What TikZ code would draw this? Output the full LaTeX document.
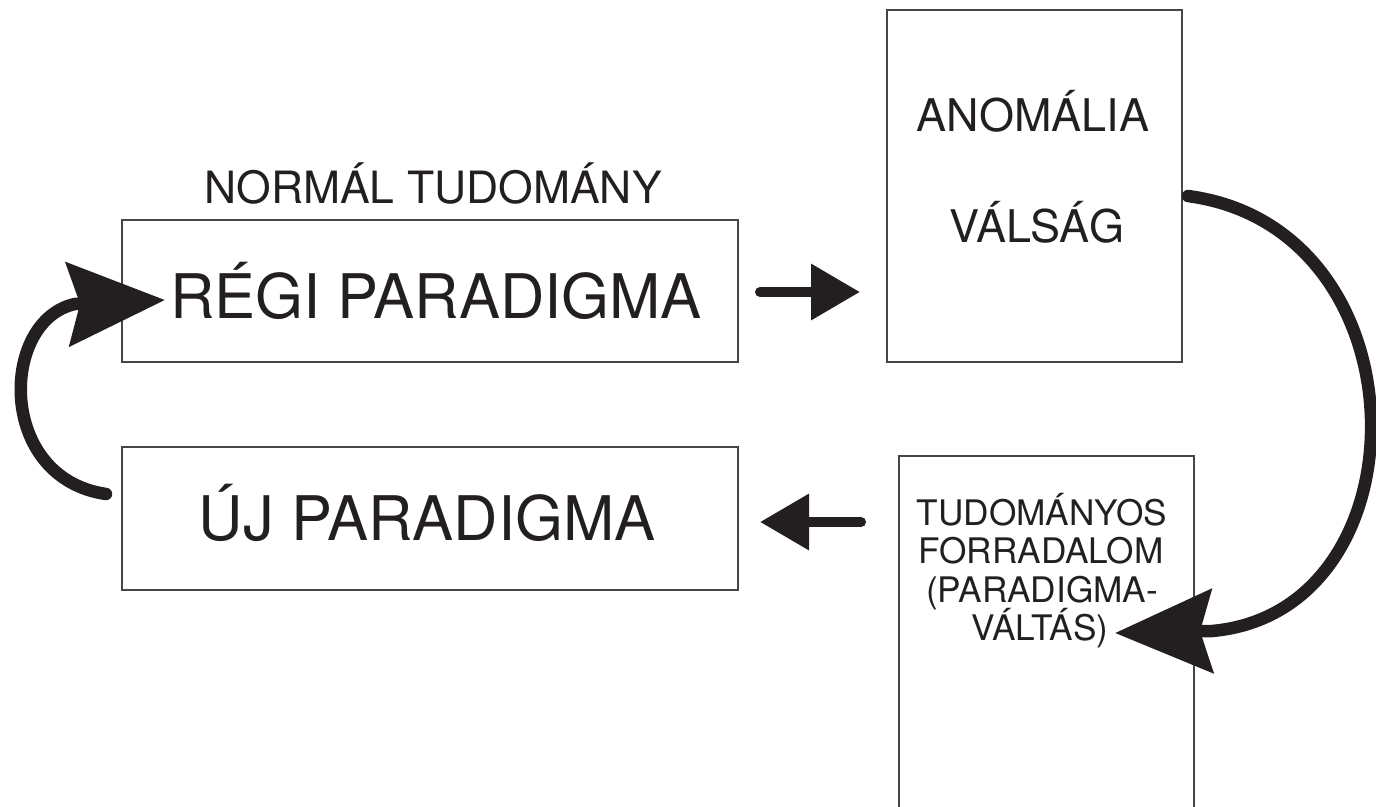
\documentclass[tikz,border=0pt]{standalone}
\usepackage{fontspec}
\setmainfont{TeX Gyre Heros}
\usetikzlibrary{arrows.meta}
\definecolor{ink}{RGB}{35,31,32}
\definecolor{frame}{RGB}{70,70,70}
\tikzset{
  box/.style={draw=frame, line width=1.1pt, rectangle, inner sep=0pt},
  txt/.style={text=ink, inner sep=0pt, anchor=base},
  bigtxt/.style={txt, font=\fontsize{61.5}{72}\selectfont},
  midtxt/.style={txt, font=\fontsize{45}{52}\selectfont},
  smalltxt/.style={txt, font=\fontsize{35.2}{38.5}\selectfont},
  shortarrow/.style={draw=ink, line width=10pt, line cap=round,
    -{Triangle[length=49pt,width=54pt]}},
  looparrow/.style={draw=ink, line width=12.5pt, line cap=round,
    -{Stealth[length=97pt,width=83pt,inset=12pt]}},
}
\begin{document}
\begin{tikzpicture}[x=1pt, y=-1pt]
\useasboundingbox (0,0) rectangle (1376,806);
\clip (0,0) rectangle (1376,806);

% boxes
\node[box, minimum width=616pt, minimum height=142pt] (regi) at (430,291) {};
\node[box, minimum width=616pt, minimum height=143pt] (uj) at (430,518.5) {};
\node[box, minimum width=295pt, minimum height=352pt] (anom) at (1034.5,186) {};
\node[box, minimum width=295pt, minimum height=360pt] (forr) at (1046.5,636) {};

% labels
\node[txt, font=\fontsize{44.5}{52}\selectfont] (normal) at (433,203) {NORMÁL TUDOMÁNY};
\node[bigtxt] (regitxt) at (436,318) {RÉGI PARADIGMA};
\node[bigtxt] (ujtxt) at (427,540) {ÚJ PARADIGMA};
\node[midtxt] (anomtxt) at (1033,131) {ANOMÁLIA};
\node[midtxt] (valsag) at (1037,242) {VÁLSÁG};
\node[smalltxt] (forr1) at (1042,525) {TUDOMÁNYOS};
\node[smalltxt] (forr2) at (1041,563.5) {FORRADALOM};
\node[smalltxt] (forr3) at (1042,602) {(PARADIGMA-};
\node[smalltxt] (forr4) at (1040,640.5) {VÁLTÁS)};

% connector ends
\coordinate (rightA) at (760,292);
\coordinate (rightB) at (860,292);
\coordinate (leftA) at (861,522);
\coordinate (leftB) at (760,522);
\coordinate (loopLA) at (106,494);
\coordinate (loopLB) at (165,300);
\coordinate (loopRA) at (1188,196);
\coordinate (loopRB) at (1115,633);

% connectors
\draw[shortarrow] (rightA) -- (rightB);
\draw[shortarrow] (leftA) -- (leftB);
\draw[looparrow] (loopLA) .. controls (-4,478) and (0,320) .. (75,304) -- (loopLB);
\draw[looparrow] (loopRA) .. controls (1428,228) and (1428,612) .. (1212,631) -- (loopRB);
\end{tikzpicture}
\end{document}
